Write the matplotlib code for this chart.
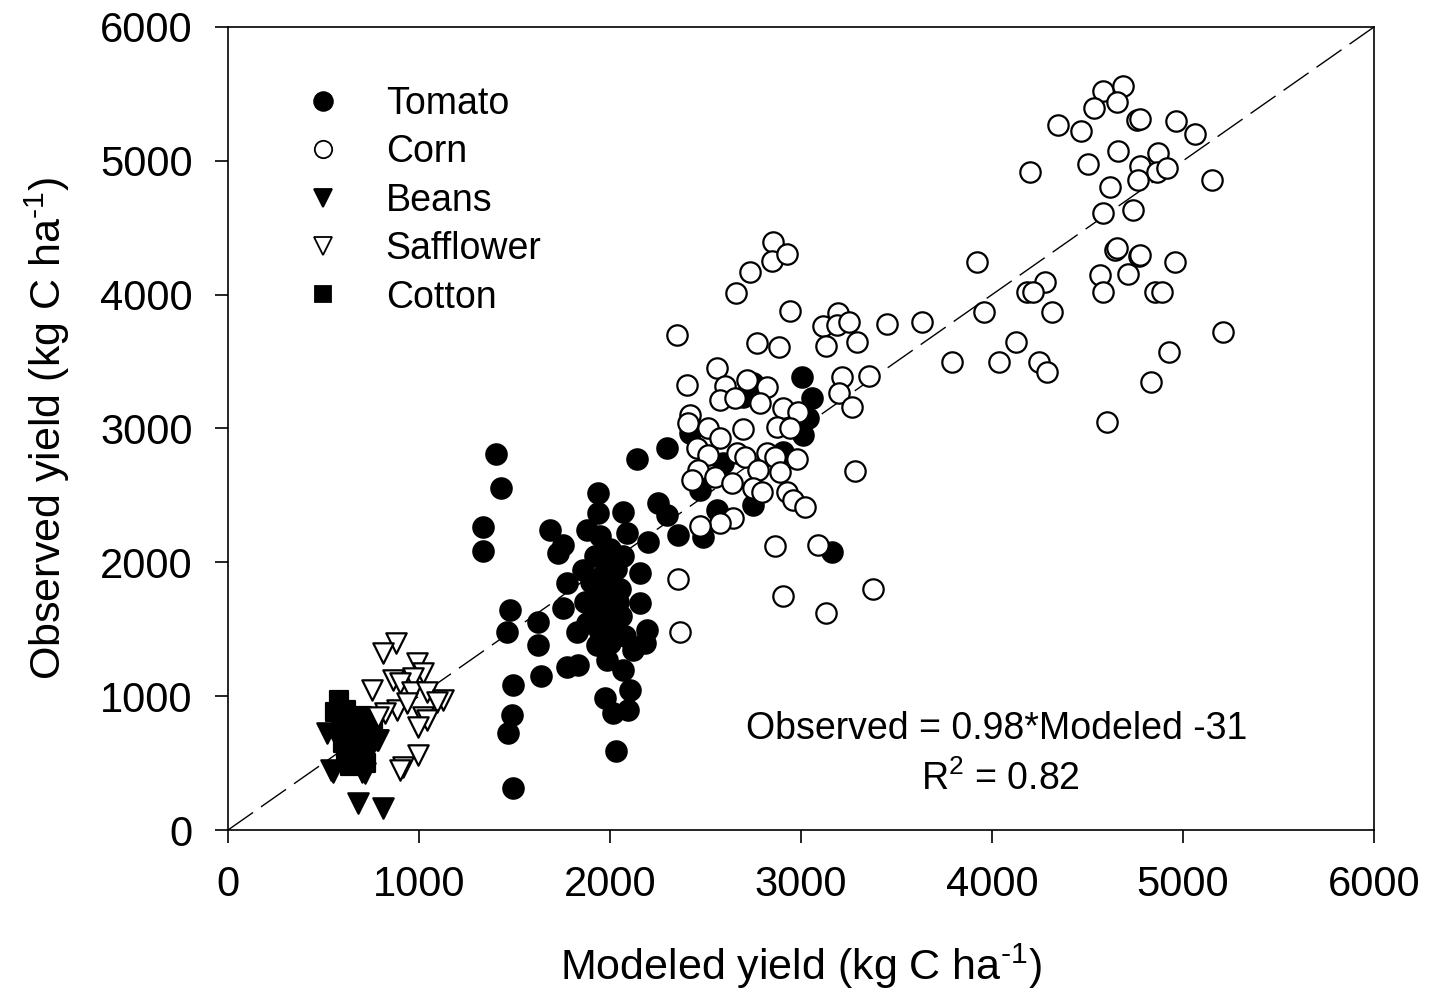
import matplotlib
matplotlib.use("Agg")
import matplotlib.pyplot as plt
import numpy as np
from matplotlib.lines import Line2D

plt.rcParams['font.family'] = ['Liberation Sans', 'DejaVu Sans']
plt.rcParams['mathtext.fontset'] = 'custom'
plt.rcParams['mathtext.rm'] = 'Liberation Sans'
plt.rcParams['mathtext.it'] = 'Liberation Sans'
plt.rcParams['axes.unicode_minus'] = False

tomato_x = [1403, 1429, 1335, 1335, 2142, 2299, 1937, 1937, 2068, 2251, 2299, 1686, 1754, 1728,
            1880, 2089, 2199, 2356, 2157, 1775, 1859, 2157, 1754, 1477, 1461, 1623, 1623, 1827,
            2194, 2183, 1932, 1775, 1833, 1984, 2068, 2121, 1639, 1492, 2105, 1974, 2016, 2094,
            1487, 1466, 2032, 1492,
            1950, 2000, 1980, 2030, 1960, 2010, 2050, 1940, 1990, 2040, 1960, 2000, 1930, 2060,
            1980, 2020, 1900, 1920, 2070, 1870, 1880, 2080, 2000, 1950,
            3005, 3058, 3037, 3011, 2419, 2592, 2471, 2560, 2749, 2487, 3163, 2906, 2749, 2697]
tomato_y = [2811, 2557, 2266, 2086, 2774, 2856, 2520, 2370, 2378, 2445, 2355, 2243, 2131, 2071,
            2243, 2221, 2153, 2206, 1922, 1847, 1944, 1697, 1660, 1645, 1480, 1555, 1383, 1480,
            1495, 1398, 1383, 1219, 1234, 1271, 1196, 1346, 1151, 1084, 1047, 987, 875, 897,
            860, 725, 591, 314,
            2200, 2100, 2000, 1950, 1900, 1850, 1800, 1800, 1750, 1700, 1700, 1650, 1600, 1600,
            1550, 1500, 1850, 2050, 2050, 1700, 1550, 1450, 1400, 1480,
            3387, 3230, 3080, 2953, 2968, 2744, 2542, 2393, 2430, 2191, 2079, 2826, 3342, 3237]

corn_x = [2660, 2943, 3194, 3115, 3189, 3252, 3451, 2351, 2770, 2885, 3131, 3294, 2560, 2403,
          2602, 2718, 2822, 2576, 2655, 2786, 3215, 3356, 3199, 3267, 2906, 2985, 2875, 2943,
          2419, 2409, 2513, 2697, 2576, 2456, 2513, 2665, 2707, 2822, 2864, 2979, 2461, 2430,
          2550, 2639, 2775, 2890, 2749, 2796, 2927, 2958, 3021, 2644, 2576, 2471, 3283, 2864,
          3089, 2356, 2906, 3377, 3131, 2367, 2733, 2854, 2848, 2927,
          3922, 4278, 4184, 4215, 4566, 4712, 4770, 4958, 4644, 4582, 4854, 4890, 3958, 4314,
          3634, 4126, 3791, 4037, 4246, 4288, 5210, 4927, 4833, 4602,
          4582, 4686, 4534, 4655, 4346, 4466, 4760, 4775, 4964, 5063, 4660, 4503, 4870, 4775,
          4864, 4917, 5152, 4618, 4765, 4582, 4739, 4655, 4775, 4199]
corn_y = [4015, 3881, 3866, 3768, 3776, 3798, 3783, 3701, 3641, 3611, 3619, 3649, 3454, 3327,
          3320, 3365, 3312, 3215, 3230, 3193, 3387, 3395, 3267, 3163, 3155, 3125, 3013, 3006,
          3103, 3043, 3006, 2998, 2931, 2856, 2804, 2819, 2789, 2819, 2789, 2774, 2692, 2617,
          2639, 2594, 2692, 2677, 2557, 2527, 2527, 2467, 2415, 2333, 2295, 2273, 2684, 2123,
          2131, 1877, 1750, 1802, 1622, 1480, 4172, 4396, 4254, 4307,
          4247, 4097, 4023, 4023, 4150, 4157, 4292, 4247, 4337, 4023, 4023, 4023, 3873, 3873,
          3798, 3649, 3499, 3499, 3499, 3424, 3724, 3574, 3350, 3051,
          5525, 5556, 5398, 5443, 5271, 5226, 5308, 5316, 5294, 5204, 5077, 4980, 5062, 4965,
          4920, 4950, 4860, 4808, 4860, 4613, 4636, 4352, 4299, 4920]

beans_x = [681, 812, 550, 717, 785, 518, 560, 600, 650, 690, 720, 760, 540, 700, 780, 640, 680, 620, 700]
beans_y = [202, 164, 434, 426, 673, 725, 720, 700, 680, 650, 700, 650, 450, 430, 670, 560, 600, 640, 560]

safflower_x = [880, 812, 990, 1021, 864, 969, 754, 901, 963, 1042, 1126, 1094, 885, 822, 937,
               785, 1021, 1042, 995, 995, 916, 901]
safflower_y = [1398, 1323, 1249, 1174, 1122, 1137, 1047, 1099, 1032, 1032, 972, 957, 897, 875,
               950, 845, 845, 822, 770, 561, 471, 449]

cotton_x = [560, 580, 620, 590, 700, 740, 650, 600, 680, 620, 700, 640, 720, 600, 760]
cotton_y = [880, 970, 900, 820, 850, 800, 750, 650, 700, 560, 600, 480, 500, 750, 820]

legend_labels = ['Tomato', 'Corn', 'Beans', 'Safflower', 'Cotton']
equation_text = 'Observed = 0.98*Modeled -31'
r2_text = 'R$^2$ = 0.82'
xlabel_text = 'Modeled yield (kg C ha$^{\\text{-}1}$)'
ylabel_text = 'Observed yield (kg C ha$^{\\text{-}1}$)'

fig = plt.figure(figsize=(14.3, 9.97), dpi=100)
ax = fig.add_axes([228/1430, 1-830/997, (1374-228)/1430, (830-27)/997])

ax.plot([0, 6000], [0, 6000], color='black', lw=1.0, dashes=(22, 7), zorder=1)

ms = 215
lw = 1.6
ax.scatter(cotton_x, cotton_y, marker='s', s=170, facecolor='black', edgecolor='black', lw=lw, zorder=2)
ax.scatter(beans_x, beans_y, marker='v', s=ms, facecolor='black', edgecolor='black', lw=lw, zorder=2)
ax.scatter(safflower_x, safflower_y, marker='v', s=ms, facecolor='white', edgecolor='black', lw=lw, zorder=3)
ax.scatter(tomato_x, tomato_y, marker='o', s=ms, facecolor='black', edgecolor='black', lw=lw, zorder=2)
ax.scatter(corn_x, corn_y, marker='o', s=ms, facecolor='white', edgecolor='black', lw=lw, zorder=3)

handles = [
    Line2D([], [], ls='none', marker='o', ms=13.5, mfc='black', mec='black', mew=1.3),
    Line2D([], [], ls='none', marker='o', ms=12.5, mfc='white', mec='black', mew=1.3),
    Line2D([], [], ls='none', marker='v', ms=13.5, mfc='black', mec='black', mew=1.3),
    Line2D([], [], ls='none', marker='v', ms=12.5, mfc='white', mec='black', mew=1.3),
    Line2D([], [], ls='none', marker='s', ms=12, mfc='black', mec='black', mew=1.3),
]
ax.legend(handles, legend_labels, loc='upper left', bbox_to_anchor=(304/1430, 1-86/997),
          bbox_transform=fig.transFigure, frameon=False,
          fontsize=27, handlelength=1.0, handletextpad=1.18, labelspacing=0.33,
          borderpad=0, borderaxespad=0)

ax.text(4026, 755, equation_text, fontsize=27, ha='center', va='center')
ax.text(4042, 380, r2_text, fontsize=27, ha='center', va='center')

ax.set_xlim(0, 6000)
ax.set_ylim(0, 6000)
ax.set_xticks(np.arange(0, 6001, 1000))
ax.set_yticks(np.arange(0, 6001, 1000))
ax.tick_params(direction='out', length=9.5, width=1.2, labelsize=30, pad=16, top=False, right=False)
for s in ax.spines.values():
    s.set_linewidth(1.2)

ax.set_xlabel(xlabel_text, fontsize=31, labelpad=26)
ax.set_ylabel(ylabel_text, fontsize=31, labelpad=20)

fig.savefig('out.png', dpi=100)
